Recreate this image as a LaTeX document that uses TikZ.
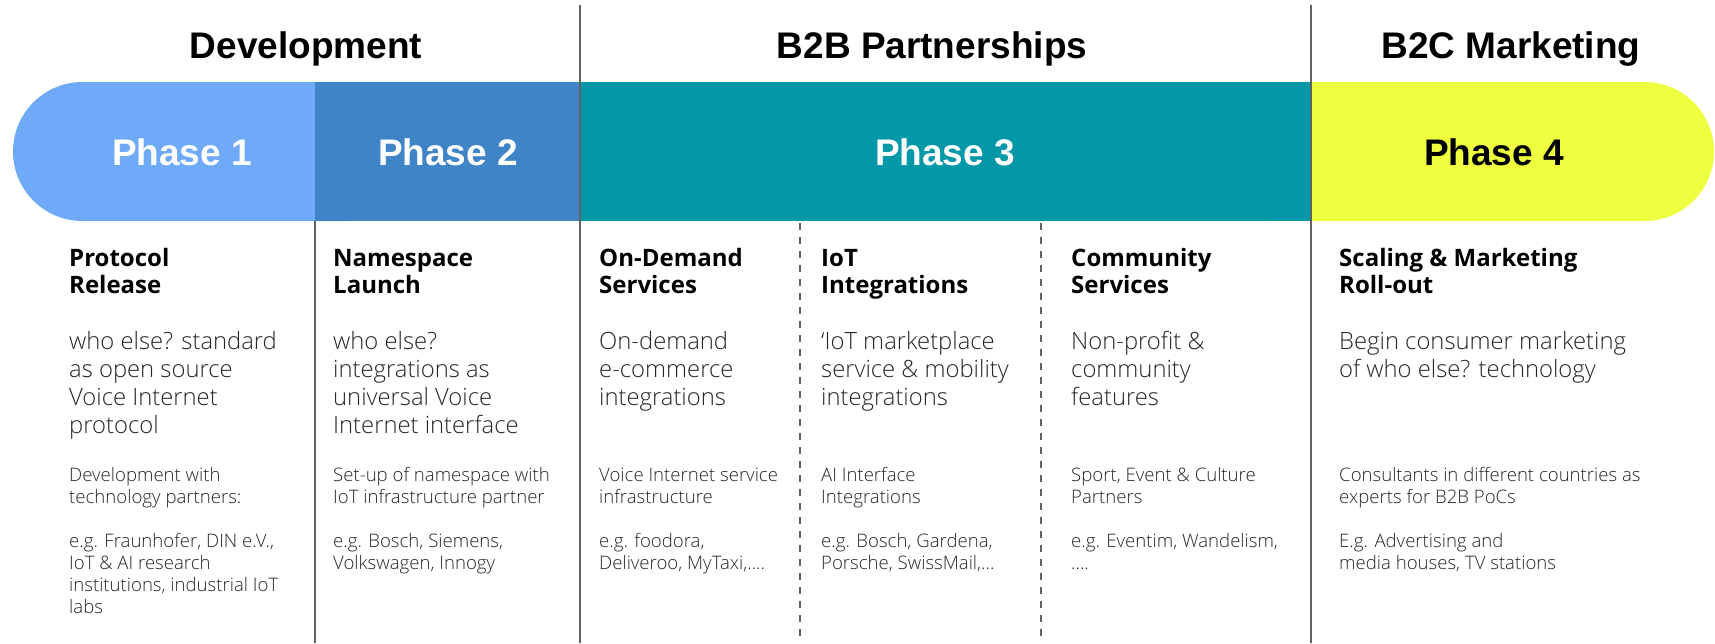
\documentclass[tikz,border=0pt]{standalone}
\usepackage{fontspec}
\setmainfont{Open Sans}
\newfontfamily\lightfont{Open Sans Light}
\newfontfamily\headfont{Liberation Sans}
\definecolor{phaseone}{HTML}{6EAAF7}
\definecolor{phasetwo}{HTML}{3F84C7}
\definecolor{phasethree}{HTML}{0398A8}
\definecolor{phasefour}{HTML}{EEFF40}
\definecolor{sepgray}{HTML}{626262}
\definecolor{txtgray}{HTML}{262626}
\newcommand{\rows}[1]{\begin{tabular}[t]{@{}l@{}}#1\end{tabular}}

\begin{document}
\begin{tikzpicture}[x=1pt,y=-1pt,
  head/.style={font=\headfont\bfseries\fontsize{37}{40}\selectfont,anchor=base,inner sep=0pt},
  phase/.style={head,text=white},
  title/.style={font=\bfseries\fontsize{24}{27.5}\selectfont,anchor=base west,inner sep=0pt},
  desc/.style={font=\lightfont\fontsize{23.8}{28}\selectfont,text=txtgray,anchor=base west,inner sep=0pt},
  note/.style={font=\lightfont\fontsize{18.6}{22}\selectfont,text=txtgray,anchor=base west,inner sep=0pt},
  sep/.style={draw=sepgray,line width=2pt},
  dsep/.style={sep,dash pattern=on 7pt off 7pt}]
  \useasboundingbox (0,0) rectangle (1715,643);

  \fill[phaseone,rounded corners=69.5pt] (13,82) rectangle (420,221);
  \fill[phasefour,rounded corners=69.5pt] (1200,82) rectangle (1714,221);
  \fill[phasetwo] (315,82) rectangle (579,221);
  \fill[phasethree] (579,82) rectangle (1311,221);

  \node[head] (dev) at (306,58) {Development};
  \node[head] (btb) at (932,58) {B2B Partnerships};
  \node[head] (btc) at (1511,58) {B2C Marketing};

  \node[phase] (p1) at (182,165) {Phase 1};
  \node[phase] (p2) at (448,165) {Phase 2};
  \node[phase] (p3) at (945,165) {Phase 3};
  \node[head] (p4) at (1494,165) {Phase 4};

  \draw[sep] (315,221) -- (315,643);
  \draw[sep] (580,5) -- (580,643);
  \draw[sep] (1311,5) -- (1311,643);
  \draw[dsep] (800,223) -- (800,643);
  \draw[dsep] (1041,223) -- (1041,643);

  \node[title] (t1) at (69,266) {\rows{Protocol\\Release}};
  \node[title] (t2) at (333,266) {\rows{Namespace\\Launch}};
  \node[title] (t3) at (599,266) {\rows{On-Demand\\Services}};
  \node[title] (t4) at (821,266) {\rows{IoT\\Integrations}};
  \node[title] (t5) at (1071,266) {\rows{Community\\Services}};
  \node[title] (t6) at (1339,266) {\rows{Scaling \& Marketing\\Roll-out}};

  \node[desc] (d1) at (69,349) {\rows{who else? standard\\as open source\\Voice Internet\\protocol}};
  \node[desc] (d2) at (333,349) {\rows{who else?\\integrations as\\universal Voice\\Internet interface}};
  \node[desc] (d3) at (599,349) {\rows{On-demand\\e-commerce\\integrations}};
  \node[desc] (d4) at (821,349) {\rows{‘IoT marketplace\\service \& mobility\\integrations}};
  \node[desc] (d5) at (1071,349) {\rows{Non-profit \&\\community\\features}};
  \node[desc] (d6) at (1339,349) {\rows{Begin consumer marketing\\of who else? technology}};

  \node[note] (n1) at (69,481) {\rows{Development with\\technology partners:}};
  \node[note] (n2) at (333,481) {\rows{Set-up of namespace with\\IoT infrastructure partner}};
  \node[note] (n3) at (599,481) {\rows{Voice Internet service\\infrastructure}};
  \node[note] (n4) at (821,481) {\rows{AI Interface\\Integrations}};
  \node[note] (n5) at (1071,481) {\rows{Sport, Event \& Culture\\Partners}};
  \node[note] (n6) at (1339,481) {\rows{Consultants in different countries as\\experts for B2B PoCs}};

  \node[note] (e1) at (69,547) {\rows{e.g. Fraunhofer, DIN e.V.,\\IoT \& AI research\\institutions, industrial IoT\\labs}};
  \node[note] (e2) at (333,547) {\rows{e.g. Bosch, Siemens,\\Volkswagen, Innogy}};
  \node[note] (e3) at (599,547) {\rows{e.g. foodora,\\Deliveroo, MyTaxi,....}};
  \node[note] (e4) at (821,547) {\rows{e.g. Bosch, Gardena,\\Porsche, SwissMail,...}};
  \node[note] (e5) at (1071,547) {\rows{e.g. Eventim, Wandelism,\\....}};
  \node[note] (e6) at (1339,547) {\rows{E.g. Advertising and\\media houses, TV stations}};
\end{tikzpicture}
\end{document}
